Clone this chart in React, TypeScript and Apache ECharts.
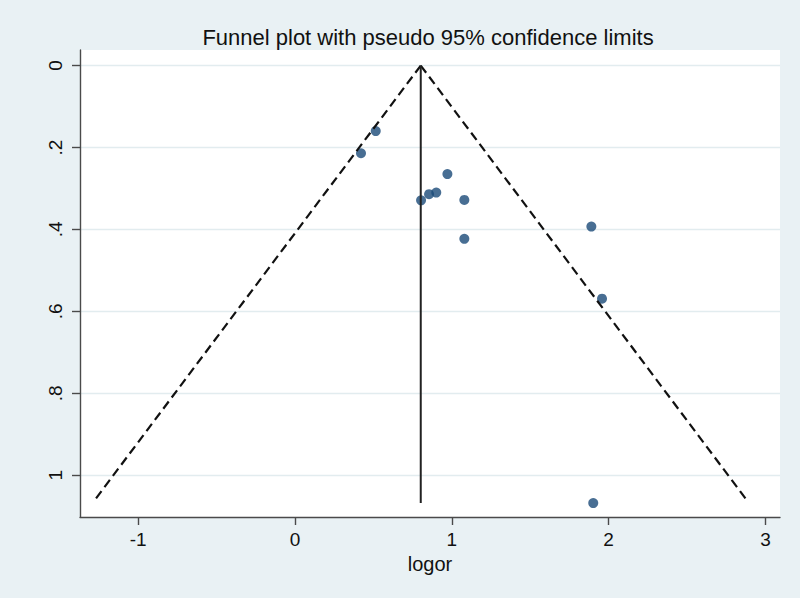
import React, { useEffect, useRef } from "react";
import * as echarts from "echarts";

// Study estimates: log odds ratio (x) and standard error (y)
const logOR = [0.515, 0.421, 0.972, 0.855, 0.901, 0.804, 1.08, 1.89, 1.08, 1.958, 1.902];
const seLogOR = [0.16, 0.214, 0.265, 0.314, 0.31, 0.329, 0.328, 0.393, 0.423, 0.569, 1.068];

// Pooled estimate and funnel extent
const pooled = 0.802;
const funnelSE = [0, 1.06];
const pooledLineSE = [0, 1.068];
const zValue = 1.96;

// Axis ticks
const xTicks = [-1, 0, 1, 2, 3];
const yTicks = [0, 0.2, 0.4, 0.6, 0.8, 1];
const xRange = [-1.371, 3.093];
const yRange = [-0.038, 1.102];

const titleText = "Funnel plot with pseudo 95% confidence limits";
const xName = "logor";

export default function App() {
  const ref = useRef<HTMLDivElement>(null);
  useEffect(() => {
    if (!ref.current) return;
    const chart = echarts.init(ref.current, undefined, { renderer: "svg" });
    const font = "'Liberation Sans', Arial, Helvetica, sans-serif";
    const points = logOR.map((x, i) => [x, seLogOR[i]]);
    const leftLimit = funnelSE.map((s) => [pooled - zValue * s, s]);
    const rightLimit = funnelSE.map((s) => [pooled + zValue * s, s]);
    const pooledLine = pooledLineSE.map((s) => [pooled, s]);
    const fmtY = (v: number) => {
      const s = String(Math.round(v * 10) / 10);
      return s.startsWith("0.") ? s.slice(1) : s;
    };
    chart.setOption({
      animation: false,
      backgroundColor: "#e9f1f4",
      textStyle: { fontFamily: font },
      graphic: [
        {
          type: "text",
          x: 428,
          y: 37.5,
          style: {
            text: titleText,
            fontSize: 22,
            fontFamily: font,
            fill: "#111",
            textAlign: "center",
            textVerticalAlign: "middle",
          },
        },
      ],
      grid: {
        left: 80,
        right: 20,
        top: 50,
        bottom: 81,
        show: true,
        backgroundColor: "#ffffff",
        borderWidth: 0,
      },
      xAxis: {
        type: "value",
        min: xRange[0],
        max: xRange[1],
        name: xName,
        nameLocation: "middle",
        nameGap: 36,
        nameTextStyle: { fontSize: 20, color: "#111", fontFamily: font },
        axisLine: { show: true, onZero: false, lineStyle: { color: "#4a4a4a", width: 1.4 } },
        axisTick: { show: true, length: 8, customValues: xTicks, lineStyle: { color: "#4a4a4a", width: 1.4 } },
        axisLabel: {
          customValues: xTicks,
          fontSize: 19,
          color: "#111",
          margin: 13,
          fontFamily: font,
          showMinLabel: true,
          showMaxLabel: true,
        },
        splitLine: { show: false },
      },
      yAxis: {
        type: "value",
        inverse: true,
        min: yRange[0],
        max: yRange[1],
        axisLine: { show: true, onZero: false, lineStyle: { color: "#4a4a4a", width: 1.4 } },
        axisTick: { show: true, length: 8, customValues: yTicks, lineStyle: { color: "#4a4a4a", width: 1.4 } },
        axisLabel: {
          customValues: yTicks,
          rotate: 90,
          fontSize: 19,
          color: "#111",
          margin: 15,
          fontFamily: font,
          formatter: fmtY,
        },
        splitLine: { show: true, lineStyle: { color: "#e2ecef", width: 1.3 } },
      },
      series: [
        {
          type: "line",
          data: leftLimit,
          symbol: "none",
          lineStyle: { color: "#111", width: 2.2, type: [9, 5] },
          silent: true,
        },
        {
          type: "line",
          data: rightLimit,
          symbol: "none",
          lineStyle: { color: "#111", width: 2.2, type: [9, 5] },
          silent: true,
        },
        {
          type: "line",
          data: pooledLine,
          symbol: "none",
          lineStyle: { color: "#222", width: 2 },
          silent: true,
        },
        {
          type: "scatter",
          data: points,
          symbol: "circle",
          symbolSize: 10,
          itemStyle: { color: "#1a4a78" },
        },
      ],
    });
    return () => chart.dispose();
  }, []);
  return (
    <div
      ref={ref}
      style={{ position: "absolute", left: 0, top: 0, width: 800, height: 598 }}
    />
  );
}
